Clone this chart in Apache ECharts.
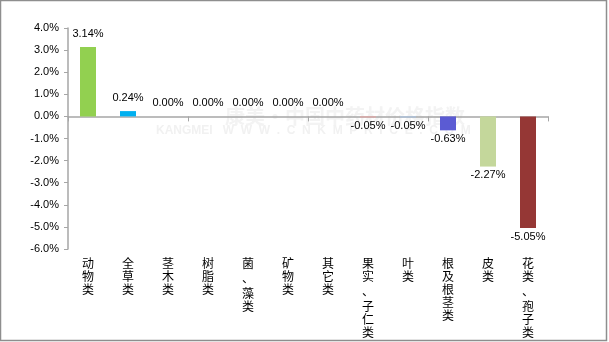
<!DOCTYPE html>
<html>
<head>
<meta charset="utf-8">
<script src="https://cdn.jsdelivr.net/npm/echarts@6/dist/echarts.min.js"></script>
<style>
html,body{margin:0;padding:0;background:#fff;}
#chart{width:609px;height:342px;}
</style>
</head>
<body>
<div id="chart"></div>
<script>
// Price index change by medicinal material category (%)
const categories = ['动物类','全草类','茎木类','树脂类','菌、藻类','矿物类','其它类','果实、子仁类','叶类','根及根茎类','皮类','花类、孢子类'];
const changes = [3.14, 0.24, 0.00, 0.00, 0.00, 0.00, 0.00, -0.05, -0.05, -0.63, -2.27, -5.05];
const barColors = ['#92D050','#00B0F0','#4F81BD','#C0504D','#9BBB59','#8064A2','#4BACC6','#E6A3A1','#A9C4E4','#5B5BD3','#C4D79B','#953735'];
const yTicks = {min: -6, max: 4, interval: 1};

// vertical category text: one character per line, the comma gets a taller row
function verticalLabel(name) {
  return name.split('').map(ch => ch === '、' ? '{p|、}' : ch).join('\n');
}

const seriesData = changes.map((v, i) => ({
  value: v,
  itemStyle: {color: barColors[i]},
  label: v < 0 ? {position: 'bottom', distance: 3} : {position: 'top', distance: 8}
}));

const chart = echarts.init(document.getElementById('chart'), null, {renderer: 'canvas'});
chart.setOption({
  animation: false,
  backgroundColor: '#fff',
  grid: {left: 68, right: 61, top: 28, bottom: 93},
  graphic: [
    {type: 'rect', z: 100, silent: true,
     shape: {x: 0.5, y: 0.5, width: 606, height: 340},
     style: {fill: 'none', stroke: '#8e8e8e', lineWidth: 1.5}},
    {type: 'text', z: -1, left: 225, top: 106, silent: true,
     style: {text: '康美·中国中药材价格指数', fill: '#f3f3f3', font: 'bold 20px "Noto Sans CJK SC"'}},
    {type: 'text', z: -1, left: 156, top: 125, silent: true,
     style: {text: 'KANGMEI   W  W  W  .  C  N  K  M  P  R  I  C  E  .  C  O  M', fill: '#f1f1f1', font: 'bold 12px "Liberation Sans"'}}
  ],
  xAxis: [
    {
      type: 'category', data: categories, position: 'bottom',
      axisLine: {show: false, onZero: false}, axisTick: {show: false},
      axisLabel: {
        interval: 0, margin: 8, color: '#000', lineHeight: 13,
        fontFamily: '"Noto Sans CJK SC"', fontSize: 12,
        formatter: verticalLabel,
        rich: {p: {lineHeight: 17, fontSize: 12, fontFamily: '"Noto Sans CJK SC"', color: '#000'}}
      }
    },
    {
      type: 'category', data: categories, position: 'bottom',
      axisLine: {show: true, onZero: true, lineStyle: {color: '#A6A6A6', width: 1.5}},
      axisTick: {show: true, length: 5, lineStyle: {color: '#A6A6A6'}},
      axisLabel: {show: false}
    }
  ],
  yAxis: {
    type: 'value', min: yTicks.min, max: yTicks.max, interval: yTicks.interval,
    axisLine: {show: true, lineStyle: {color: '#A6A6A6', width: 1.5}},
    axisTick: {show: true, length: 4, lineStyle: {color: '#A6A6A6'}},
    splitLine: {show: false},
    axisLabel: {
      margin: 9, color: '#000', fontFamily: '"Liberation Sans", Arial', fontSize: 11,
      formatter: v => v.toFixed(1) + '%'
    }
  },
  series: [{
    type: 'bar', xAxisIndex: 0, data: seriesData, barWidth: 16,
    label: {
      show: true, color: '#000', fontFamily: '"Liberation Sans", Arial', fontSize: 11,
      formatter: p => p.value.toFixed(2) + '%'
    }
  }]
});
</script>
</body>
</html>
